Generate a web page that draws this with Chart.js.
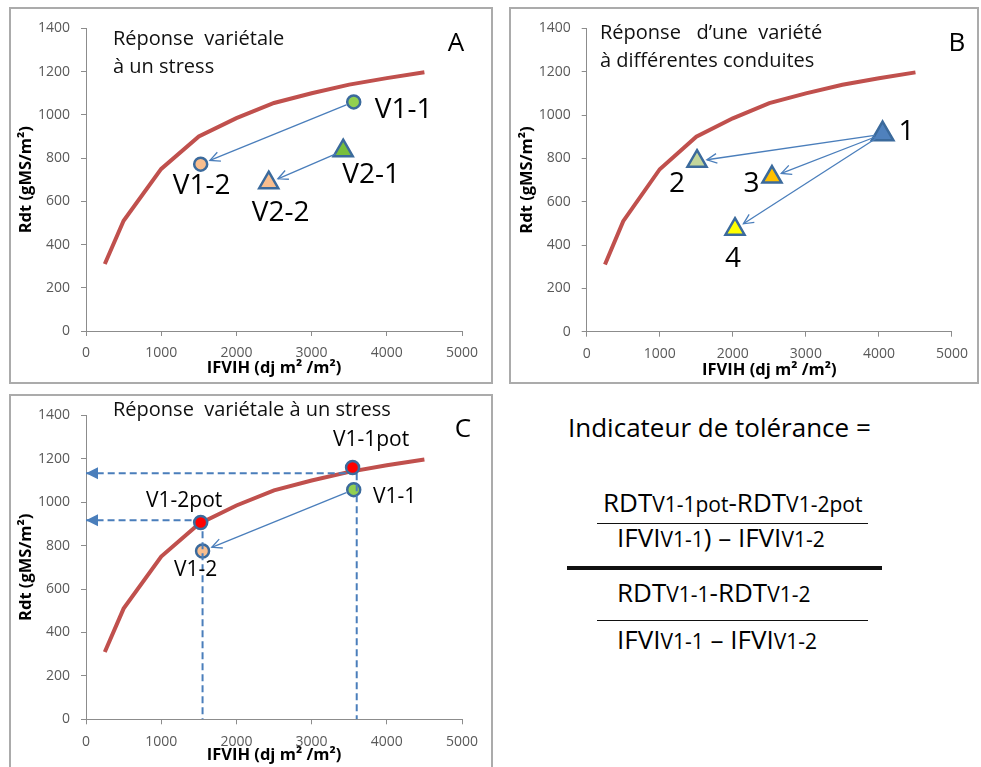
<!DOCTYPE html>
<html>
<head>
<meta charset="utf-8">
<script src="https://cdn.jsdelivr.net/npm/chart.js@4.4.0/dist/chart.umd.min.js"></script>
<style>
  html, body { margin: 0; padding: 0; background: #fff; }
  body { width: 981px; height: 767px; position: relative; overflow: hidden; font-family: 'Open Sans', sans-serif; color: #000; }
  .frame { position: absolute; border: 2px solid #ababab; }
  .frame canvas { display: block; }
  #frameA { left: 9px; top: 7px; width: 480px; height: 373px; }
  #frameB { left: 509px; top: 7px; width: 466px; height: 373px; }
  #frameC { left: 9px; top: 394px; width: 480px; height: 373px; }
  .ftxt { position: absolute; white-space: nowrap; font-size: 26px; line-height: 30px; height: 30px; }
  .ftxt small { font-size: 21px; }
  .rule { position: absolute; background: #111; }
</style>
</head>
<body>
<div class="frame" id="frameA"><canvas id="chartA"></canvas></div>
<div class="frame" id="frameB"><canvas id="chartB"></canvas></div>
<div class="frame" id="frameC"><canvas id="chartC"></canvas></div>

<div class="ftxt" style="left:568px; top:412px;">Indicateur de tolérance =</div>
<div class="ftxt" style="left:603px; top:487px;">RDT<small>V1-1pot</small>-RDT<small>V1-2pot</small></div>
<div class="rule" style="left:597px; top:523px; width:271px; height:1px;"></div>
<div class="ftxt" style="left:617px; top:522px;">IFVI<small>V1-1</small>) – IFVI<small>V1-2</small></div>
<div class="rule" style="left:567px; top:566px; width:315px; height:4px;"></div>
<div class="ftxt" style="left:617px; top:577px;">RDT<small>V1-1</small>-RDT<small>V1-2</small></div>
<div class="rule" style="left:597px; top:620px; width:271px; height:1px;"></div>
<div class="ftxt" style="left:617px; top:624px;">IFVI<small>V1-1</small> – IFVI<small>V1-2</small></div>

<script>
const xTickVals = [0, 1000, 2000, 3000, 4000, 5000];
const yTickVals = [0, 200, 400, 600, 800, 1000, 1200, 1400];

// courbe de rendement potentiel (identique sur les 3 graphes)
const curveX = [250, 500, 1000, 1500, 2000, 2500, 3000, 3500, 4000, 4500];
const curveY = [310, 510, 750, 900, 985, 1055, 1100, 1140, 1170, 1197];

// A : reponse variétale à un stress
const aNames = ['V1-1', 'V1-2', 'V2-1', 'V2-2'];
const aX = [3560, 1525, 3420, 2430];
const aY = [1060, 772, 834, 686];

// B : une variété, différentes conduites
const bNames = ['1', '2', '3', '4'];
const bX = [4050, 1510, 2536, 2030];
const bY = [912, 787, 714, 473];

// C : potentiels
const cNames = ['V1-1pot', 'V1-1', 'V1-2pot', 'V1-2'];
const cX = [3545, 3560, 1525, 1550];
const cY = [1160, 1058, 907, 775];
const cGuideX = [3600, 1550];
const cGuideY = [1134, 917];

const LINE_BLUE = '#4a7ebb';
const EDGE = '#3b6a9c';
const CURVE = '#c0504d';

Chart.defaults.font.family = "'Open Sans', sans-serif";

const annot = {
  id: 'annot',
  afterDatasetsDraw(chart, args, opts) {
    const { ctx, chartArea } = chart;
    const sx = chart.scales.x, sy = chart.scales.y;
    const P = (x, y) => [sx.getPixelForValue(x), sy.getPixelForValue(y)];
    ctx.save();

    // flèches pleines
    ctx.strokeStyle = LINE_BLUE;
    ctx.lineWidth = 1.3;
    (opts.arrows || []).forEach(a => {
      let [x0, y0] = P(a.x0, a.y0);
      let [x1, y1] = P(a.x1, a.y1);
      const ang = Math.atan2(y1 - y0, x1 - x0);
      x0 += Math.cos(ang) * 8; y0 += Math.sin(ang) * 8;
      x1 -= Math.cos(ang) * 10; y1 -= Math.sin(ang) * 10;
      ctx.beginPath();
      ctx.moveTo(x0, y0);
      ctx.lineTo(x1, y1);
      ctx.stroke();
      const L = 11, w = 0.45;
      ctx.beginPath();
      ctx.moveTo(x1 - L * Math.cos(ang - w), y1 - L * Math.sin(ang - w));
      ctx.lineTo(x1, y1);
      ctx.lineTo(x1 - L * Math.cos(ang + w), y1 - L * Math.sin(ang + w));
      ctx.stroke();
    });

    // pointes des lignes de rappel
    ctx.fillStyle = LINE_BLUE;
    (opts.heads || []).forEach(h => {
      const [x, y] = P(h.x, h.y);
      ctx.beginPath();
      ctx.moveTo(x, y);
      ctx.lineTo(x + 12, y - 6);
      ctx.lineTo(x + 12, y + 6);
      ctx.closePath();
      ctx.fill();
    });

    // étiquettes des points
    ctx.fillStyle = '#000';
    ctx.textBaseline = 'middle';
    (opts.labels || []).forEach(l => {
      const [x, y] = P(l.x, l.y);
      ctx.font = opts.labelFont;
      ctx.textAlign = l.align || 'center';
      ctx.fillText(l.text, x + l.dx, y + l.dy);
    });

    // titre et lettre
    ctx.fillStyle = '#111';
    ctx.textAlign = 'left';
    ctx.font = "20px 'Open Sans', sans-serif";
    opts.title.lines.forEach((t, i) => {
      ctx.fillText(t, chartArea.left + opts.title.dx, chartArea.top + opts.title.dy[i]);
    });
    ctx.textAlign = 'center';
    ctx.font = "26px 'Open Sans', sans-serif";
    ctx.fillStyle = '#000';
    ctx.fillText(opts.letter.text, chartArea.right + opts.letter.dx, chartArea.top + opts.letter.dy);
    ctx.restore();
  }
};

function scales(yWidth, xHeight, yTitlePad, xTitlePad) {
  const tickFont = { size: 14 };
  const plain = v => String(v);
  return {
    x: {
      type: 'linear', min: 0, max: 5000,
      afterBuildTicks: s => { s.ticks = xTickVals.map(v => ({ value: v })); },
      afterFit: s => { s.height = xHeight; },
      grid: { drawOnChartArea: false, tickLength: 5, color: '#8c8c8c' },
      border: { color: '#8c8c8c' },
      ticks: { color: '#595959', font: tickFont, padding: 9, maxRotation: 0, callback: plain },
      title: { display: true, text: 'IFVIH (dj m² /m²)', color: '#000', font: { size: 16.5, weight: 'bold' }, padding: { top: 0, bottom: xTitlePad } }
    },
    y: {
      type: 'linear', min: 0, max: 1400,
      afterBuildTicks: s => { s.ticks = yTickVals.map(v => ({ value: v })); },
      afterFit: s => { s.width = yWidth; },
      grid: { drawOnChartArea: false, tickLength: 5, color: '#8c8c8c' },
      border: { color: '#8c8c8c' },
      ticks: { color: '#595959', font: tickFont, padding: 11, callback: plain },
      title: { display: true, text: 'Rdt (gMS/m²)', color: '#000', font: { size: 16.5, weight: 'bold' }, padding: { top: yTitlePad, bottom: 0 } }
    }
  };
}

function curveSet() {
  return {
    data: curveX.map((x, i) => ({ x, y: curveY[i] })),
    showLine: true, borderColor: CURVE, borderWidth: 4, pointRadius: 0, order: 3
  };
}

function markerSet(xs, ys, styles, radii, fills, order) {
  return {
    data: xs.map((x, i) => ({ x, y: ys[i] })),
    showLine: false,
    pointStyle: styles, pointRadius: radii,
    pointBackgroundColor: fills, pointBorderColor: EDGE, pointBorderWidth: 2.5,
    order: order === undefined ? 2 : order
  };
}

function makeChart(id, datasets, sc, pad, annotOpts) {
  return new Chart(document.getElementById(id), {
    type: 'scatter',
    data: { datasets },
    options: {
      responsive: true, maintainAspectRatio: false, animation: false,
      layout: { padding: pad },
      scales: sc,
      plugins: { legend: { display: false }, tooltip: { enabled: false }, annot: annotOpts }
    },
    plugins: [annot]
  });
}

const arrow = (xs, ys, i, j) => ({ x0: xs[i], y0: ys[i], x1: xs[j], y1: ys[j] });

// ---- A
const aOff = [[21, 8, 'left'], [1, 22], [28, 24], [12, 30]];
makeChart('chartA',
  [curveSet(), markerSet(aX, aY, ['circle', 'circle', 'triangle', 'triangle'], [6.5, 6.5, 11, 11],
    ['#92d050', '#f9be8e', '#78bf3c', '#f9be8e'])],
  scales(75, 51, 5.4, 3.4),
  { left: 0, top: 15, right: 29, bottom: 0 },
  {
    arrows: [arrow(aX, aY, 0, 1), arrow(aX, aY, 2, 3)],
    labels: aNames.map((t, i) => ({ text: t, x: aX[i], y: aY[i], dx: aOff[i][0], dy: aOff[i][1], align: aOff[i][2] })),
    labelFont: "28px 'Open Sans', sans-serif",
    title: { lines: ['Réponse  variétale', 'à un stress'], dx: 27, dy: [11, 39] },
    letter: { text: 'A', dx: -6, dy: 15 }
  });

// ---- B
const bOff = [[16, -2, 'left'], [-20, 23], [-20.5, 7], [-2, 29.5]];
makeChart('chartB',
  [curveSet(), markerSet(bX, bY, 'triangle', [12.5, 11, 11, 11],
    ['#4f81bd', '#c3d69b', '#ffc000', '#ffff00'])],
  scales(75.7, 50.3, 6, 1.4),
  { left: 0, top: 15.7, right: 14.3, bottom: 0 },
  {
    arrows: [arrow(bX, bY, 0, 1), arrow(bX, bY, 0, 2), arrow(bX, bY, 0, 3)],
    labels: bNames.map((t, i) => ({ text: t, x: bX[i], y: bY[i], dx: bOff[i][0], dy: bOff[i][1], align: bOff[i][2] })),
    labelFont: "28px 'Open Sans', sans-serif",
    title: { lines: ['Réponse   d\u2019une  variété', 'à différentes conduites'], dx: 13.3, dy: [4.6, 32.6] },
    letter: { text: 'B', dx: 5, dy: 15.3 }
  });

// ---- C
const guide = (pts) => ({
  data: pts, showLine: true, borderColor: LINE_BLUE, borderWidth: 2, borderDash: [7, 4],
  pointRadius: 0, order: 1
});
const cOff = [[18.5, -27], [41, 7], [-16.5, -21], [-7, 19]];
const redIdx = [0, 2], otherIdx = [1, 3];
makeChart('chartC',
  [curveSet(),
    markerSet(redIdx.map(i => cX[i]), redIdx.map(i => cY[i]), 'circle', 6.5, '#ff0000', 0),
    markerSet(otherIdx.map(i => cX[i]), otherIdx.map(i => cY[i]), 'circle', 6.5, ['#92d050', '#f9be8e'], 2),
    ...cGuideX.map((gx, i) => guide([{ x: gx, y: cGuideY[i] }, { x: 0, y: cGuideY[i] }])),
    ...cGuideX.map((gx, i) => guide([{ x: gx, y: cGuideY[i] }, { x: gx, y: 0 }]))],
  scales(75, 49.7, 5.4, 3.4),
  { left: 0, top: 16.3, right: 29, bottom: 0 },
  {
    arrows: [arrow(cX, cY, 1, 3)],
    heads: cGuideY.map(gy => ({ x: 0, y: gy })),
    labels: cNames.map((t, i) => ({ text: t, x: cX[i], y: cY[i], dx: cOff[i][0], dy: cOff[i][1] })),
    labelFont: "21px 'Open Sans', sans-serif",
    title: { lines: ['Réponse  variétale à un stress'], dx: 27, dy: [-5.6] },
    letter: { text: 'C', dx: 1, dy: 14.4 }
  });
</script>
</body>
</html>
